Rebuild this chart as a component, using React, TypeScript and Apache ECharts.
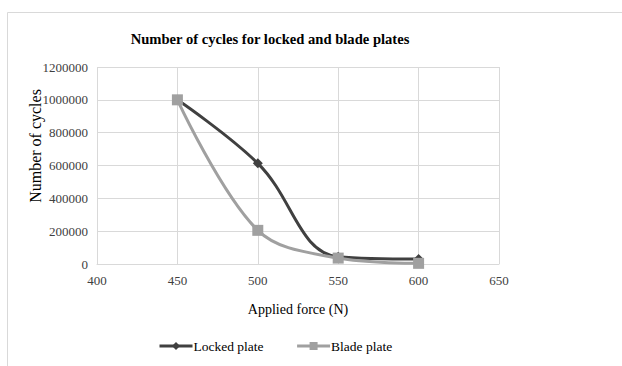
import React, { useEffect, useRef } from "react";
import * as echarts from "echarts";

const forces = [450, 500, 550, 600];
const lockedCycles = [1000000, 613000, 44000, 30000];
const bladeCycles = [1000000, 205000, 36000, 4000];
const seriesNames = ["Locked plate", "Blade plate"];

const FONT = "'Liberation Serif', 'Times New Roman', serif";

export default function App() {
  const ref = useRef<HTMLDivElement>(null);

  useEffect(() => {
    if (!ref.current) return;
    const chart = echarts.init(ref.current, undefined, { renderer: "svg" });
    const pair = (xs: number[], ys: number[]) => xs.map((x, i) => [x, ys[i]]);
    chart.setOption({
      animation: false,
      backgroundColor: "#ffffff",
      textStyle: { fontFamily: FONT },
      graphic: [
        {
          type: "rect",
          shape: { x: 7.5, y: 12.5, width: 700, height: 400 },
          style: { fill: "none", stroke: "#d9d9d9", lineWidth: 1 },
          silent: true,
        },
        {
          type: "text",
          x: 35,
          y: 146,
          rotation: Math.PI / 2,
          style: {
            text: "Number of cycles",
            fontFamily: FONT,
            fontSize: 16,
            fill: "#000",
            align: "center",
            verticalAlign: "middle",
          },
          silent: true,
        },
      ],
      title: {
        text: "Number of cycles for locked and blade plates",
        left: 265,
        textAlign: "center",
        top: 26,
        textStyle: { fontFamily: FONT, fontSize: 14.6, fontWeight: "bold", color: "#000" },
      },
      legend: {
        data: seriesNames,
        bottom: 8,
        left: 153,
        itemWidth: 33,
        itemHeight: 10,
        itemGap: 32,
        lineStyle: { width: 3 },
        textStyle: { fontFamily: FONT, fontSize: 13.5, color: "#000", padding: [0, 0, 0, -4] },
      },
      grid: { left: 97, right: 123, top: 67, bottom: 102 },
      xAxis: {
        type: "value",
        min: 400,
        max: 650,
        interval: 50,
        name: "Applied force (N)",
        nameLocation: "middle",
        nameGap: 38,
        nameTextStyle: { fontFamily: FONT, fontSize: 14, color: "#000" },
        axisLine: { show: true, lineStyle: { color: "#d9d9d9", width: 1 } },
        axisTick: { show: false },
        axisLabel: { fontFamily: FONT, fontSize: 13, color: "#404040", margin: 10 },
        splitLine: { show: true, lineStyle: { color: "#d9d9d9", width: 1 } },
      },
      yAxis: {
        type: "value",
        min: 0,
        max: 1200000,
        interval: 200000,
        axisLine: { show: false },
        axisTick: { show: false },
        axisLabel: {
          fontFamily: FONT,
          fontSize: 13,
          color: "#404040",
          margin: 9,
          formatter: (v: number) => String(v),
        },
        splitLine: { show: true, lineStyle: { color: "#d9d9d9", width: 1 } },
      },
      series: [
        {
          name: seriesNames[0],
          type: "line",
          smooth: 0.4,
          data: pair(forces, lockedCycles),
          symbol: "diamond",
          symbolSize: 10,
          lineStyle: { color: "#404040", width: 3 },
          itemStyle: { color: "#404040" },
          z: 2,
        },
        {
          name: seriesNames[1],
          type: "line",
          smooth: 0.35,
          data: pair(forces, bladeCycles),
          symbol: "rect",
          symbolSize: 11,
          lineStyle: { color: "#a0a0a0", width: 3 },
          itemStyle: { color: "#a0a0a0" },
          z: 3,
        },
      ],
    });
    return () => chart.dispose();
  }, []);

  return (
    <div
      ref={ref}
      style={{ position: "fixed", left: 0, top: 0, width: 622, height: 366 }}
    />
  );
}
